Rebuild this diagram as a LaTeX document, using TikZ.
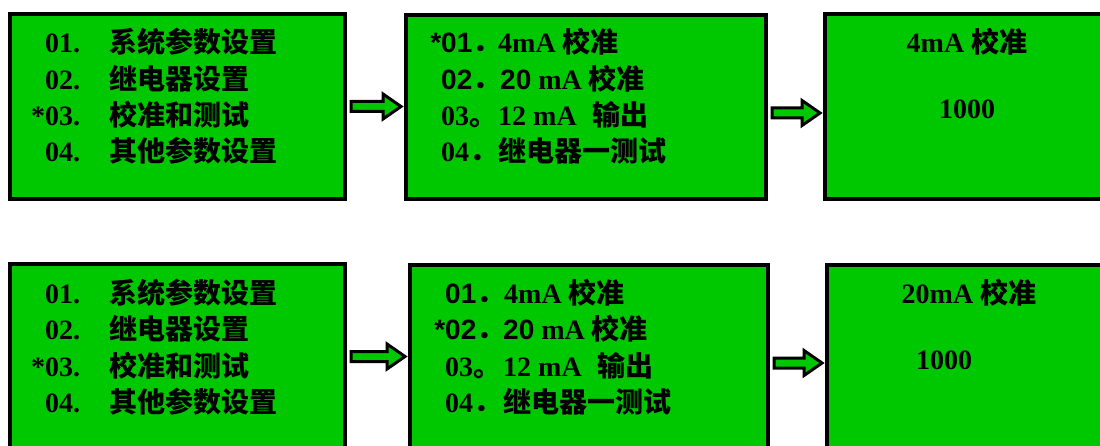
\documentclass[tikz,border=0pt]{standalone}
\usepackage{fontspec}
\setmainfont{Liberation Serif}[BoldFont={Liberation Serif Bold}]
\setsansfont{Liberation Sans}[BoldFont={Liberation Sans Bold}]
\newfontfamily\cjk{Noto Sans CJK SC}
\usepackage{tikz}
\usetikzlibrary{calc}
\definecolor{lcdgreen}{RGB}{0,200,0}

% block arrow between two screens: from, to, vertical shift
\newcommand{\flowarrow}[3]{%
  \path ([shift={(4,#3)}]#1.east) coordinate (tail)
        ([shift={(-3,0)}]#2.west |- tail) coordinate (tip);
  \draw[flow] ([shift={(0,-5)}]tail) -- ([shift={(-18,-5)}]tip)
    -- ([shift={(-18,-12.5)}]tip) -- (tip)
    -- ([shift={(-18,12.5)}]tip) -- ([shift={(-18,5)}]tip)
    -- ([shift={(0,5)}]tail) -- cycle;}

\begin{document}
\begin{tikzpicture}[x=1pt, y=-1pt,
    screen/.style={rectangle, draw=black, fill=lcdgreen, line width=4pt, inner sep=0pt},
    flow/.style={draw=black, fill=lcdgreen, line width=3pt, line join=miter},
    item/.style={anchor=base west, inner sep=0pt, font=\bfseries\fontsize{28}{28}\selectfont},
    title/.style={anchor=base, inner sep=0pt, font=\bfseries\fontsize{28}{28}\selectfont}
]
    \clip (0,0) rectangle (1100,446);
    \fill[white] (0,0) rectangle (1100,446);

    % Top row: 4 mA
    \node[screen, minimum width=335pt, minimum height=185pt] (menuA) at (177.5,106.5) {};
    \node[screen, minimum width=360pt, minimum height=184pt] (calA) at (586,107) {};
    \node[screen, minimum width=300pt, minimum height=185pt] (valA) at (975,106.5) {};

    \node[item] (a1n) at (45,53) {01.};
    \node[item] (a2n) at (45,89.5) {02.};
    \node[item] (a3n) at (45,126) {\llap{*}03.};
    \node[item] (a4n) at (45,162) {04.};
    \node[item] (a1) at (109,53) {\cjk 系统参数设置};
    \node[item] (a2) at (109,89.5) {\cjk 继电器设置};
    \node[item] (a3) at (109,126) {\cjk 校准和测试};
    \node[item] (a4) at (109,162) {\cjk 其他参数设置};

    \node[item] (b1n) at (441,53) {\sffamily\llap{*}01{\cjk ．}};
    \node[item] (b2n) at (441,89.5) {\sffamily 02{\cjk ．}};
    \node[item] (b3n) at (441,126) {03{\cjk 。}};
    \node[item] (b4n) at (441,162) {04{\cjk ．}};
    \node[item] (b1) at (498,53) {4mA {\cjk 校准}};
    \node[item] (b2) at (500,89.5) {{\sffamily 20} mA {\cjk 校准}};
    \node[item] (b3) at (498,126) {12 mA\hspace{0.3em} {\cjk 输出}};
    \node[item] (b4) at (498,162) {\cjk 继电器一测试};

    \node[title] (c1) at (967,53) {4mA {\cjk 校准}};
    \node[title] (c2) at (967,119) {1000};

    \flowarrow{menuA}{calA}{0}
    \flowarrow{calA}{valA}{6}

    % Bottom row: 20 mA
    \node[screen, minimum width=335pt, minimum height=185pt] (menuB) at (177.5,356.5) {};
    \node[screen, minimum width=358pt, minimum height=185pt] (calB) at (589,357.5) {};
    \node[screen, minimum width=300pt, minimum height=185pt] (valB) at (977,357.5) {};

    \node[item] (d1n) at (45,303) {01.};
    \node[item] (d2n) at (45,339.5) {02.};
    \node[item] (d3n) at (45,376) {\llap{*}03.};
    \node[item] (d4n) at (45,412) {04.};
    \node[item] (d1) at (109,303) {\cjk 系统参数设置};
    \node[item] (d2) at (109,339.5) {\cjk 继电器设置};
    \node[item] (d3) at (109,376) {\cjk 校准和测试};
    \node[item] (d4) at (109,412) {\cjk 其他参数设置};

    \node[item] (e1n) at (445,303) {\sffamily 01{\cjk ．}};
    \node[item] (e2n) at (445,339.5) {\sffamily\llap{*}02{\cjk ．}};
    \node[item] (e3n) at (445,376) {03{\cjk 。}};
    \node[item] (e4n) at (445,412) {04{\cjk ．}};
    \node[item] (e1) at (504,303) {4mA {\cjk 校准}};
    \node[item] (e2) at (503,339.5) {{\sffamily 20} mA {\cjk 校准}};
    \node[item] (e3) at (503,376) {12 mA\hspace{0.3em} {\cjk 输出}};
    \node[item] (e4) at (503,412) {\cjk 继电器一测试};

    \node[title] (f1) at (969,303) {20mA {\cjk 校准}};
    \node[title] (f2) at (944,369) {1000};

    \flowarrow{menuB}{calB}{0}
    \flowarrow{calB}{valB}{5.5}
\end{tikzpicture}
\end{document}
